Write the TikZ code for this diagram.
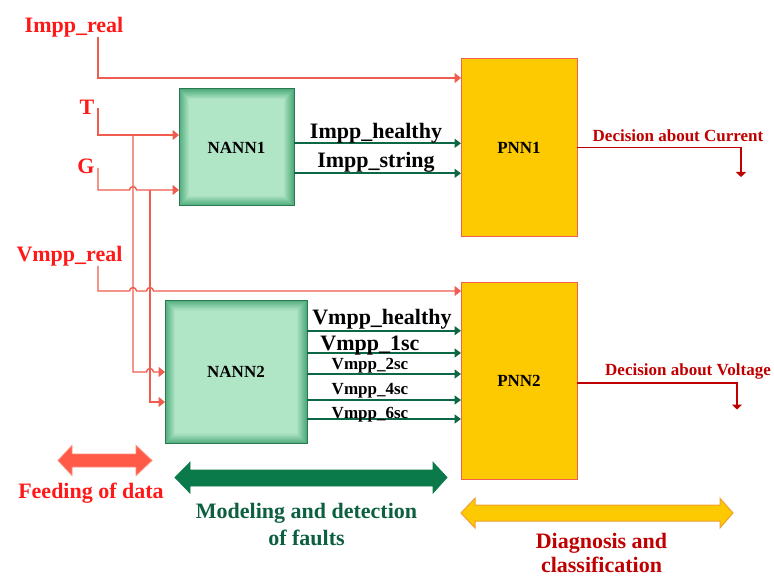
\documentclass[tikz,border=0pt]{standalone}
\usepackage{fontspec}
\setmainfont{Liberation Serif}
\usetikzlibrary{arrows.meta}

\definecolor{inred}{RGB}{255,24,24}
\definecolor{inline}{RGB}{240,92,78}
\definecolor{nannfill}{RGB}{176,229,198}
\definecolor{nannedge}{RGB}{70,165,115}
\definecolor{nannborder}{RGB}{40,120,80}
\definecolor{pnnfill}{RGB}{253,201,0}
\definecolor{pnnborder}{RGB}{240,96,80}
\definecolor{outgreen}{RGB}{12,104,68}
\definecolor{decred}{RGB}{192,0,0}
\definecolor{feedfill}{RGB}{255,90,72}
\definecolor{feedborder}{RGB}{255,140,122}
\definecolor{modelfill}{RGB}{10,122,74}
\definecolor{modeltext}{RGB}{12,96,64}
\definecolor{diagborder}{RGB}{240,160,48}

\begin{document}
\begin{tikzpicture}[x=1pt,y=1pt,
  big/.style={font=\fontsize{22}{27}\selectfont\bfseries, inner sep=0pt, anchor=base},
  mid/.style={font=\fontsize{17}{20}\selectfont\bfseries, inner sep=0pt, anchor=base},
  intext/.style={big, text=inred},
  nannbox/.style={draw=nannborder, line width=1pt, fill=nannfill, inner sep=0pt, outer sep=0pt,
    font=\fontsize{17}{20}\selectfont\bfseries,
    path picture={
      \foreach \i in {0,...,9}{
        \pgfmathtruncatemacro\pct{90-9*\i}
        \draw[line width=1.1pt, nannedge!\pct!nannfill]
          ([shift={(\i+0.5,-\i-0.5)}]path picture bounding box.north west) rectangle
          ([shift={(-\i-0.5,\i+0.5)}]path picture bounding box.south east);
      }}},
  pnnbox/.style={draw=pnnborder, line width=1pt, fill=pnnfill, inner sep=0pt, outer sep=0pt,
    font=\fontsize{17}{20}\selectfont\bfseries},
  inarrow/.style={draw=inline, line width=1.4pt, -{Triangle[length=6.5pt,width=10pt]}},
  outarrow/.style={draw=outgreen, line width=1.8pt, -{Triangle[length=6.5pt,width=9pt]}},
  decarrow/.style={draw=decred, line width=1.6pt, -{Triangle[length=5pt,width=10pt]}},
]
\useasboundingbox[fill=white] (0,0) rectangle (774,-577);

% processing blocks
\node[nannbox, minimum width=115pt, minimum height=117pt] (nann1) at (236.5,-147.5) {NANN1};
\node[nannbox, minimum width=142pt, minimum height=143pt] (nann2) at (236,-372) {NANN2};
\node[pnnbox, minimum width=116pt, minimum height=177.5pt] (pnn1) at (519,-147.75) {PNN1};
\node[pnnbox, minimum width=116pt, minimum height=196pt] (pnn2) at (519,-381) {PNN2};

% input signals
\node[intext] (ir) at (74,-32.3) {Impp\_real};
\node[intext] (t) at (87,-115) {T};
\node[intext] (g) at (86,-173.3) {G};
\node[intext] (vr) at (69.5,-261.7) {Vmpp\_real};

\coordinate (cIr) at (98,-37);
\coordinate (cT) at (98,-108);
\coordinate (cG) at (98,-168);
\coordinate (cV) at (98,-266);
\coordinate (jT) at (133,-135);
\coordinate (jG) at (150,-190);

\draw[inarrow] (cIr) |- (pnn1.west |- 0,-78);
\draw[inarrow] (cT) |- (nann1.west |- jT);
\draw[inarrow] (cG) |- (129.5,-190) arc[start angle=180,end angle=0,radius=3.5]
  -- (nann1.west |- jG);
\draw[inarrow] (jT) -- (133,-372) -- (146.5,-372) arc[start angle=180,end angle=0,radius=3.5]
  -- (nann2.west |- 0,-372);
\draw[inarrow] (jG) |- (nann2.west |- 0,-402);
\draw[inarrow] (cV) |- (129.5,-291) arc[start angle=180,end angle=0,radius=3.5]
  -- (146.5,-291) arc[start angle=180,end angle=0,radius=3.5]
  -- (pnn2.west |- 0,-291);

% NANN1 outputs
\draw[outarrow] (nann1.east |- 0,-143.3) -- (pnn1.west |- 0,-143.3);
\draw[outarrow] (nann1.east |- 0,-173.3) -- (pnn1.west |- 0,-173.3);
\node[big] (ih) at (376,-138.3) {Impp\_healthy};
\node[big] (is) at (376,-167.3) {Impp\_string};

% NANN2 outputs
\draw[outarrow] (nann2.east |- 0,-330.7) -- (pnn2.west |- 0,-330.7);
\draw[outarrow] (nann2.east |- 0,-353) -- (pnn2.west |- 0,-353);
\draw[outarrow] (nann2.east |- 0,-374) -- (pnn2.west |- 0,-374);
\draw[outarrow] (nann2.east |- 0,-400) -- (pnn2.west |- 0,-400);
\draw[outarrow] (nann2.east |- 0,-419) -- (pnn2.west |- 0,-419);
\node[big] (vh) at (382,-324.5) {Vmpp\_healthy};
\node[big] (v1) at (370,-350.5) {Vmpp\_1sc};
\node[mid] (v2) at (370,-370) {Vmpp\_2sc};
\node[mid] (v4) at (370,-394) {Vmpp\_4sc};
\node[mid] (v6) at (370,-418) {Vmpp\_6sc};

% decisions
\coordinate (dC) at (741,-177);
\coordinate (dV) at (737,-409.5);
\draw[decarrow] (pnn1.east |- 0,-147.7) -| (dC);
\draw[decarrow] (pnn2.east |- 0,-382.7) -| (dV);
\node[mid, text=decred] (dcur) at (678,-141.7) {Decision about Current};
\node[mid, text=decred] (dvol) at (688,-375) {Decision about Voltage};

% stage arrows
\draw[draw=feedborder, line width=0.8pt, fill=feedfill]
  (58,-460.5) -- (72,-445.5) -- (72,-454) -- (136,-454) -- (136,-445.5) -- (152,-460.5)
  -- (136,-475.5) -- (136,-467) -- (72,-467) -- (72,-475.5) -- cycle;
\draw[draw=modelfill, line width=0.8pt, fill=modelfill]
  (175,-477.5) -- (190,-462.3) -- (190,-470) -- (433,-470) -- (433,-462.3) -- (447,-477.5)
  -- (433,-493) -- (433,-486) -- (190,-486) -- (190,-493) -- cycle;
\draw[draw=diagborder, line width=1pt, fill=pnnfill]
  (461,-513) -- (475,-498.3) -- (475,-505) -- (720,-505) -- (720,-498.3) -- (733,-513)
  -- (720,-528) -- (720,-521) -- (475,-521) -- (475,-528) -- cycle;

\node[big, text=inred] (feed) at (91,-498.3) {Feeding of data};
\node[big, text=modeltext] (mod1) at (306.5,-518.3) {Modeling and detection};
\node[big, text=modeltext] (mod2) at (306.5,-545) {of faults};
\node[big, text=decred] (diag1) at (601.5,-548) {Diagnosis and};
\node[big, text=decred] (diag2) at (601.5,-572.5) {classification};
\end{tikzpicture}
\end{document}
